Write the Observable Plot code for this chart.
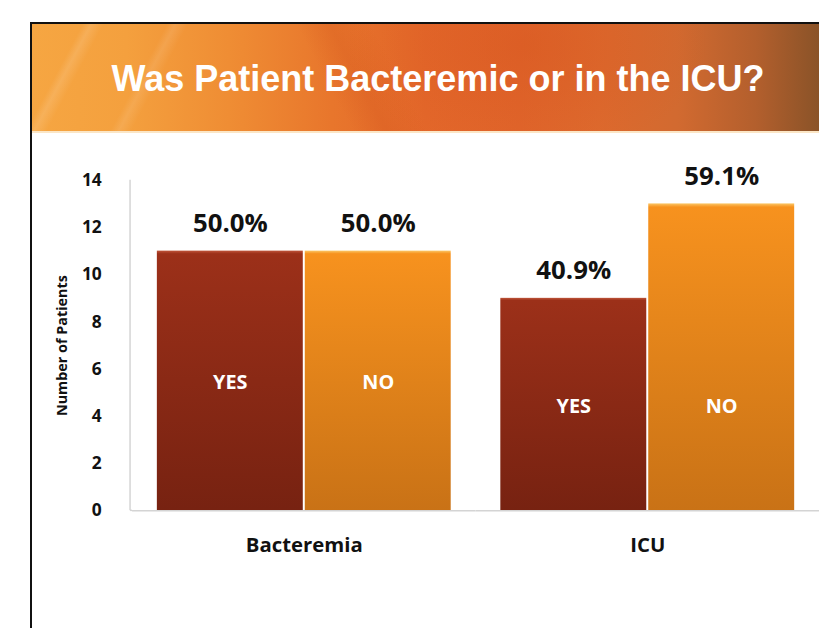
<!DOCTYPE html>
<html>
<head>
<meta charset="utf-8">
<script src="https://cdn.jsdelivr.net/npm/d3@7"></script>
<script src="https://cdn.jsdelivr.net/npm/@observablehq/plot@0.6"></script>
<style>
  html, body { margin: 0; padding: 0; width: 819px; height: 628px; overflow: hidden; background: #fff; }
  #frame { position: absolute; left: 30px; top: 22px; width: 820px; height: 640px; border-left: 2px solid #111; border-top: 2px solid #111; box-sizing: border-box; }
  #header {
    position: absolute; left: 32px; top: 24px; width: 787px; height: 107px;
    background:
      linear-gradient(118deg, transparent 0%, transparent 6%, rgba(255,255,255,0.13) 7%, transparent 8.5%, transparent 16%, rgba(255,255,255,0.10) 17%, transparent 18.5%, transparent 100%),
      linear-gradient(62deg, transparent 0%, transparent 38%, rgba(200,70,20,0.18) 42%, transparent 47%, transparent 100%),
      radial-gradient(ellipse 260px 160px at 63% 20%, rgba(215,85,30,0.45), transparent 70%),
      linear-gradient(90deg, #f6a642 0%, #f4a03e 12%, #ef8d34 25%, #e8762c 38%, #e3672a 50%, #e0652b 62%, #dd6a2e 72%, #d26a30 82%, #b35f2d 92%, #8a5328 100%);
    border-bottom: 2px solid #fbe6c6;
  }
  #title {
    position: absolute; left: 0; top: 61px; width: 876px; text-align: center;
    font: bold 36px "Liberation Sans", Arial, sans-serif; line-height: 36px; color: #fff;
    white-space: nowrap;
  }
  #chart { position: absolute; left: 0; top: 150px; }
</style>
</head>
<body>
<div id="frame"></div>
<div id="header"></div>
<div id="title">Was Patient Bacteremic or in the ICU?</div>
<div id="chart"></div>
<script>
// ---- data ----
const categories = ["Bacteremia", "ICU"];
const answers = ["YES", "NO"];
const bacteremiaCounts = [11, 11];
const icuCounts = [9, 13];
const bacteremiaPct = ["50.0%", "50.0%"];
const icuPct = ["40.9%", "59.1%"];
const yTicks = [0, 2, 4, 6, 8, 10, 12, 14];
const yLabel = "Number of Patients";

const countsByCat = [bacteremiaCounts, icuCounts];
const pctByCat = [bacteremiaPct, icuPct];
const rows = [];
categories.forEach((c, ci) => {
  const groupMin = d3.min(countsByCat[ci]);
  answers.forEach((a, ai) => {
    rows.push({category: c, answer: a, count: countsByCat[ci][ai], pct: pctByCat[ci][ai], mid: groupMin / 2});
  });
});

const font = '"Open Sans", "Noto Sans", sans-serif';
const ML = 133;

const plot = Plot.plot({
  width: 825,
  height: 478,
  marginLeft: ML,
  marginRight: 0,
  marginTop: 30,
  marginBottom: 115,
  style: {fontFamily: font, color: "#111", background: "transparent", overflow: "visible"},
  fx: {domain: categories, padding: 0},
  x: {domain: answers, paddingInner: 0.014, paddingOuter: 0.165, axis: null},
  y: {domain: [0, 14]},
  color: {domain: answers, range: ["url(#gradYes)", "url(#gradNo)"]},
  marks: [
    Plot.barY(rows, {fx: "category", x: "answer", y: "count", fill: "answer"}),
    Plot.ruleY([0], {stroke: "#d4d4d4", strokeWidth: 1.5, dx: 0}),
    Plot.text(rows, {fx: "category", x: "answer", y: "count", text: "pct", dy: -19, lineAnchor: "bottom",
      fontSize: 26, fontWeight: "bold", fill: "#111"}),
    Plot.text(rows, {fx: "category", x: "answer", y: "mid", text: "answer", fill: "#fff", dy: 2,
      fontSize: 20, fontWeight: "bold"}),
    Plot.axisY({ticks: yTicks, tickSize: 0, tickPadding: 31, fontSize: 17.5, fontWeight: "bold", label: null}),
    Plot.axisFx({anchor: "bottom", tickSize: 0, tickPadding: 27, fontSize: 20.5, fontWeight: "bold", label: null}),
    Plot.text([yLabel], {fx: () => categories[0], frameAnchor: "left", rotate: -90, dx: -71, textAnchor: "middle",
      fontSize: 14.5, fontWeight: "bold", fill: "#111"})
  ]
});

// gradients for the bar fills
const svg = d3.select(plot);
const defs = svg.insert("defs", ":first-child");
const gy = defs.append("linearGradient").attr("id", "gradYes").attr("x1", 0).attr("y1", 0).attr("x2", 0).attr("y2", 1);
gy.append("stop").attr("offset", "0%").attr("stop-color", "#c0553a");
gy.append("stop").attr("offset", "1.2%").attr("stop-color", "#9c3019");
gy.append("stop").attr("offset", "100%").attr("stop-color", "#772211");
const gn = defs.append("linearGradient").attr("id", "gradNo").attr("x1", 0).attr("y1", 0).attr("x2", 0).attr("y2", 1);
gn.append("stop").attr("offset", "0%").attr("stop-color", "#fbc766");
gn.append("stop").attr("offset", "1.2%").attr("stop-color", "#f7921e");
gn.append("stop").attr("offset", "100%").attr("stop-color", "#c97216");

// y-axis domain line and baseline extension using the plot's y scale
const ys = plot.scale("y");
const y0 = ys.apply(0), y1 = ys.apply(14);
svg.append("line").attr("x1", ML - 2).attr("x2", ML - 2).attr("y1", y1).attr("y2", y0)
  .attr("stroke", "#d4d4d4").attr("stroke-width", 1.5);
svg.append("line").attr("x1", ML - 2).attr("x2", ML).attr("y1", y0).attr("y2", y0)
  .attr("stroke", "#d4d4d4").attr("stroke-width", 1.5);

document.getElementById("chart").appendChild(plot);
</script>
</body>
</html>
